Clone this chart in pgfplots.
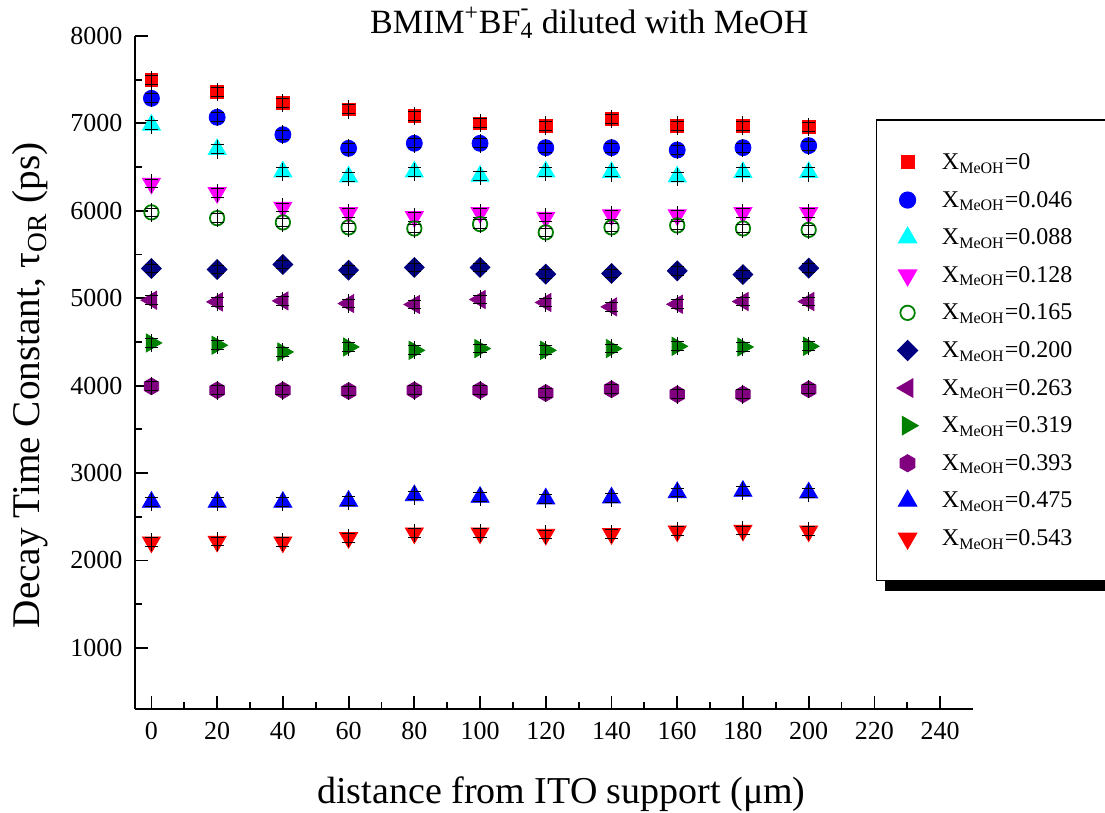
\documentclass[border=0pt]{standalone}
\usepackage{fontspec}
\setmainfont{Liberation Serif}
\usepackage{pgfplots}
\usepackage{pgfplotstable}
\pgfplotsset{compat=1.18}
\usetikzlibrary{shadows}
\definecolor{cred}{RGB}{255,0,0}
\definecolor{cblue}{RGB}{0,0,255}
\definecolor{ccyan}{RGB}{0,255,255}
\definecolor{cmagenta}{RGB}{255,0,255}
\definecolor{cnavy}{RGB}{0,0,128}
\definecolor{cpurple}{RGB}{128,0,128}
\definecolor{cgreen}{RGB}{0,128,0}
\pgfdeclareplotmark{hexagon*}{%
 \pgfpathmoveto{\pgfqpointpolar{90}{\pgfplotmarksize}}%
 \pgfpathlineto{\pgfqpointpolar{150}{\pgfplotmarksize}}%
 \pgfpathlineto{\pgfqpointpolar{210}{\pgfplotmarksize}}%
 \pgfpathlineto{\pgfqpointpolar{270}{\pgfplotmarksize}}%
 \pgfpathlineto{\pgfqpointpolar{330}{\pgfplotmarksize}}%
 \pgfpathlineto{\pgfqpointpolar{30}{\pgfplotmarksize}}%
 \pgfpathclose\pgfusepathqfillstroke}
\pgfplotstableread{
x   sa   sb   sc   sd   se   sf   sg   sh   si   sj   sk
0   7500 7287 6982 6313 5982 5340 4977 4488 3992 2667 2209
20  7356 7070 6703 6206 5916 5329 4958 4462 3946 2667 2217
40  7230 6871 6447 6039 5867 5386 4969 4385 3946 2667 2209
60  7161 6715 6390 5977 5810 5321 4939 4442 3938 2679 2259
80  7085 6772 6447 5931 5798 5352 4928 4404 3946 2743 2312
100 7001 6772 6397 5977 5848 5352 4985 4424 3946 2724 2312
120 6974 6722 6447 5924 5753 5275 4951 4404 3915 2706 2297
140 7047 6722 6440 5951 5810 5283 4901 4424 3958 2717 2305
160 6974 6695 6390 5951 5833 5313 4931 4450 3900 2778 2335
180 6974 6722 6440 5977 5798 5271 4962 4442 3900 2793 2343
200 6959 6745 6440 5977 5782 5344 4962 4450 3958 2774 2335
}\data
\newcommand{\series}[3]{%
 \addplot[only marks, #2] table[x=x,y=#1]{\data};
 \addlegendentry{X\textsubscript{MeOH}=#3}
 \addplot[forget plot, draw=none, mark=none, error bars/.cd, y dir=both, y fixed=50,
   error mark=|, error mark options={draw=black, mark size=3.3pt, line width=0.5pt},
   error bar style={draw=black, line width=0.5pt}] table[x=x,y=#1]{\data};
 \addplot[forget plot, draw=none, mark=none, error bars/.cd, y dir=both, y fixed=105,
   error mark=none, error bar style={draw=black, line width=0.5pt}] table[x=x,y=#1]{\data};
}
\begin{document}
\begin{tikzpicture}
\path[use as bounding box] (-67.5pt,-52pt) rectangle (485pt,354.5pt);
\begin{axis}[
  at={(0,0)}, anchor=south west,
  scale only axis, width=419pt, height=336.5pt,
  clip mode=individual,
  xmin=-5, xmax=250, ymin=300, ymax=8000,
  axis x line*=bottom, axis y line*=left,
  axis line style={line width=1pt},
  tick align=inside,
  major tick length=6.5pt, minor tick length=3.3pt,
  tick style={black, line width=0.9pt},
  xtick={0,20,...,240}, minor x tick num=1,
  ytick={1000,2000,...,8000}, minor y tick num=1,
  scaled ticks=false,
  /pgf/number format/1000 sep={},
  /pgf/number format/assume math mode=true,
  tick label style={font=\fontsize{13}{13}\selectfont},
  x tick label style={yshift=-3.3pt},
  y tick label style={xshift=-2.8pt},
  xlabel={distance from ITO support (μm)},
  xlabel style={at={(axis description cs:0.509,0)}, anchor=base, yshift=-47.3pt, font=\fontsize{19}{19}\selectfont},
  ylabel={Decay Time Constant, τ\textsubscript{OR} (ps)},
  ylabel style={at={(axis description cs:-0.1134,0.481)}, anchor=base, font=\fontsize{19.6}{19.6}\selectfont},
  legend cell align=left,
  legend style={
    at={(axis description cs:0.884,0.876)}, anchor=north west,
    draw=black, line width=0.6pt, fill=white,
    font=\fontsize{12}{12}\selectfont,
    inner xsep=10.4pt, inner ysep=11.8pt,
    row sep=0pt, column sep=12pt,
    nodes={inner sep=0pt, text height=12.9pt, text depth=5.9pt, text width=90pt},
    drop shadow={shadow xshift=4.5pt, shadow yshift=-5pt, fill=black, opacity=1},
  },
]
\series{sa}{mark=square*, mark size=3.2pt, color=cred}{0}
\series{sb}{mark=*, mark size=4pt, color=cblue}{0.046}
\series{sc}{mark=triangle*, mark size=5.2pt, color=ccyan}{0.088}
\series{sd}{mark=triangle*, mark size=5.2pt, color=cmagenta, mark options={rotate=180}}{0.128}
\series{se}{mark=o, mark size=3.6pt, color=cgreen, mark options={line width=0.9pt, fill=white}}{0.165}
\series{sf}{mark=square*, mark size=3.5pt, color=cnavy, mark options={rotate=45}}{0.200}
\series{sg}{mark=triangle*, mark size=5.2pt, color=cpurple, mark options={rotate=90}}{0.263}
\series{sh}{mark=triangle*, mark size=5.2pt, color=cgreen, mark options={rotate=-90}}{0.319}
\series{si}{mark=hexagon*, mark size=4.2pt, color=cpurple}{0.393}
\series{sj}{mark=triangle*, mark size=5.2pt, color=cblue}{0.475}
\series{sk}{mark=triangle*, mark size=5.2pt, color=cred, mark options={rotate=180}}{0.543}
\node[anchor=base, font=\fontsize{17}{17}\selectfont] at (axis description cs:0.542,1) [yshift=1.3pt]
  {BMIM\textsuperscript{+}BF\makebox[0pt][l]{\raisebox{0.15em}{\textsuperscript{-}}}\textsubscript{4} diluted with MeOH};
\end{axis}
\end{tikzpicture}
\end{document}
